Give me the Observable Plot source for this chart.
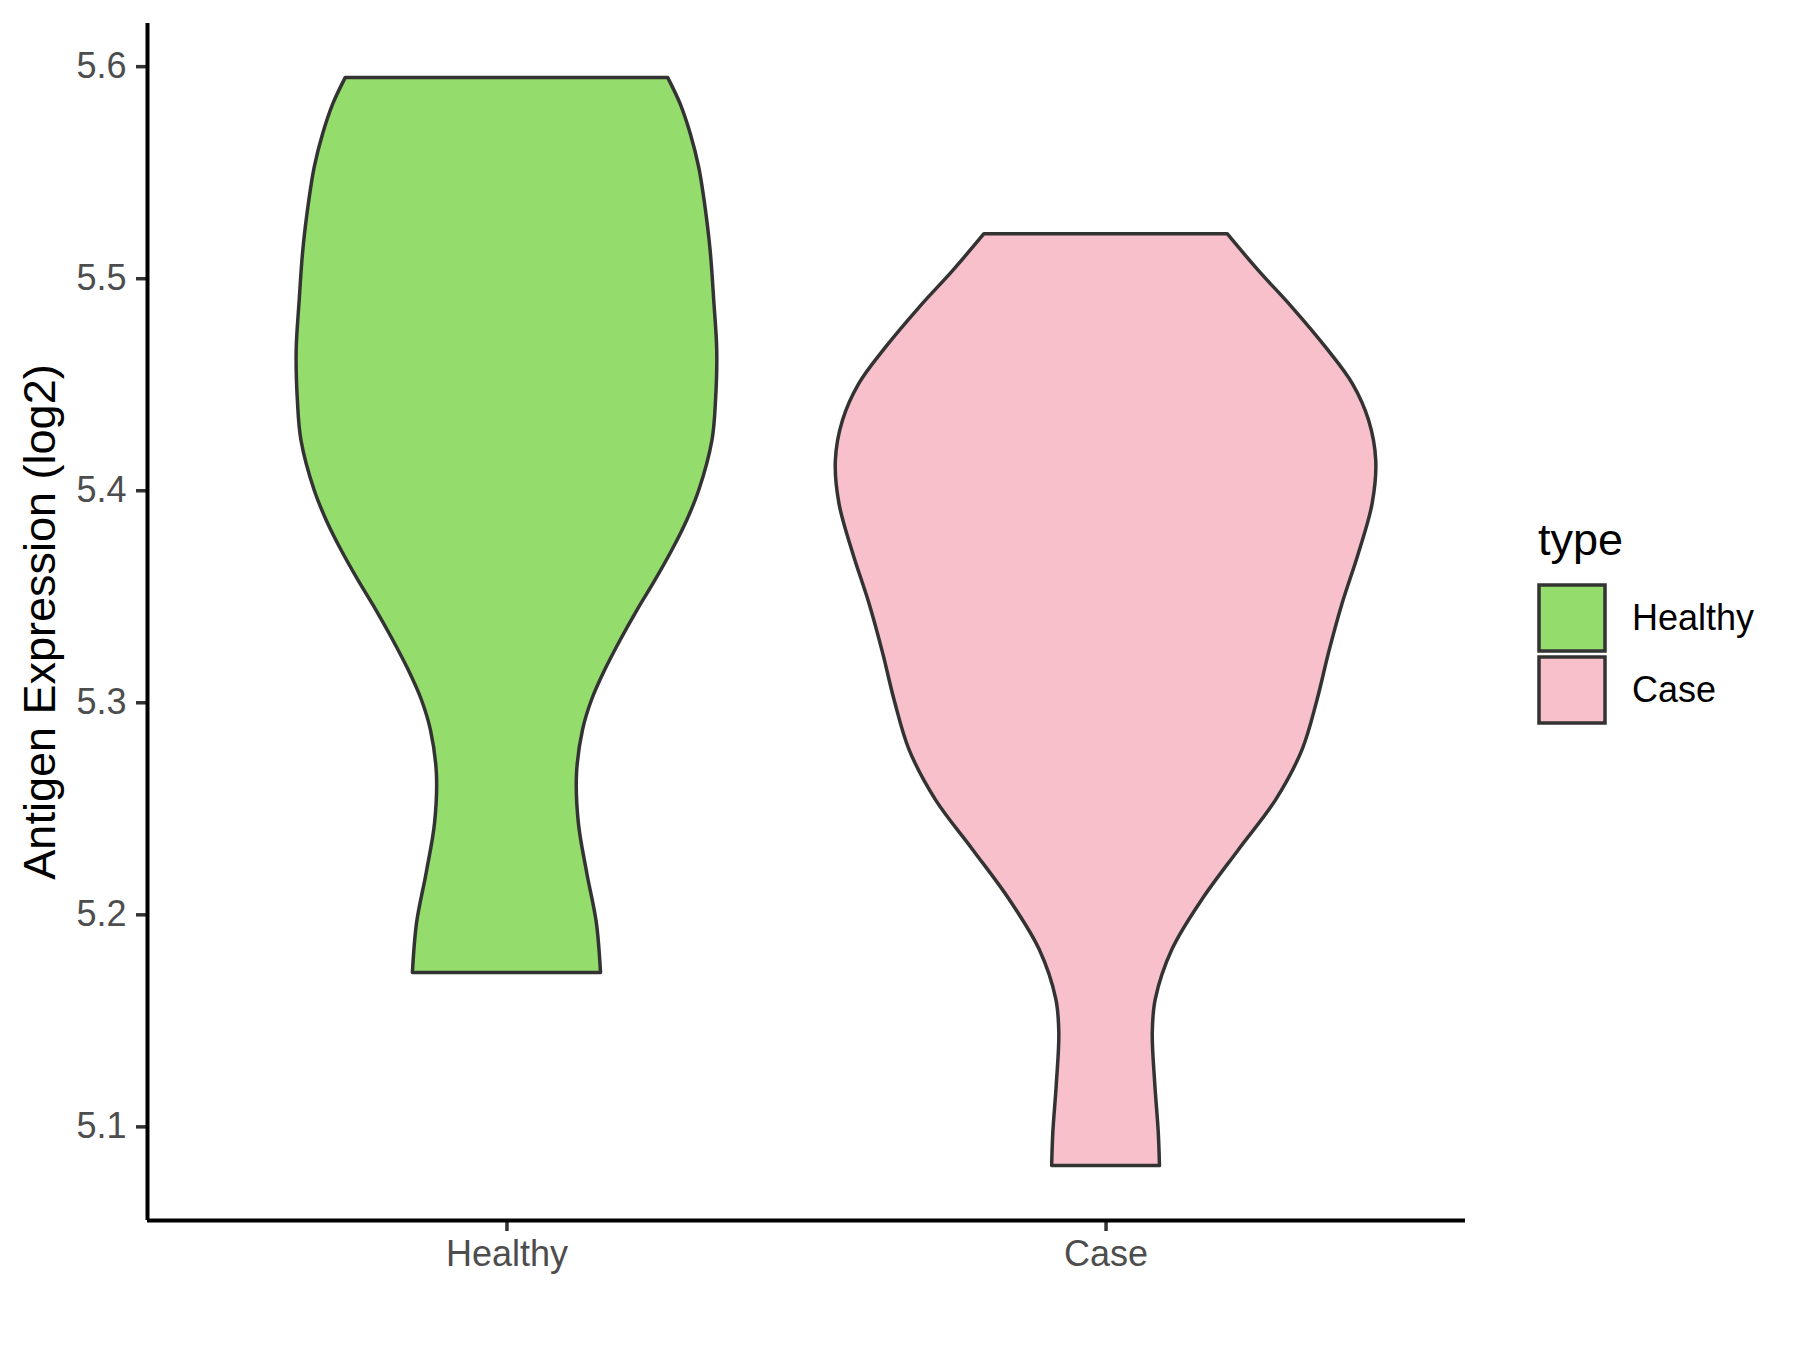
<!DOCTYPE html>
<html><head><meta charset="utf-8">
<script src="https://cdn.jsdelivr.net/npm/d3@7"></script>
<script src="https://cdn.jsdelivr.net/npm/@observablehq/plot@0.6"></script>
<style>
html,body{margin:0;padding:0;background:#fff;}
#wrap{position:relative;width:1800px;height:1350px;font-family:"Liberation Sans",Arial,sans-serif;}
#legend{position:absolute;left:1530px;top:500px;}
</style></head><body><div id="wrap"></div>
<script>
const categories = ["Healthy", "Case"];
const fillColors = ["#94DC6C", "#F7C0CB"];
const yTitle = "Antigen Expression (log2)";
const legendTitle = "type";
const yTicks = [5.1, 5.2, 5.3, 5.4, 5.5, 5.6];

// violin outlines: value and half-width (in category units)
const healthyValue = [5.5947, 5.5822, 5.5680, 5.5523, 5.5366, 5.5131, 5.4895, 5.4660, 5.4425, 5.4236, 5.4001, 5.3860, 5.3718, 5.3577, 5.3436, 5.3295, 5.3153, 5.3012, 5.2871, 5.2667, 5.2432, 5.2196, 5.1961, 5.1726];
const healthyHalfWidth = [0.269, 0.290, 0.307, 0.321, 0.330, 0.340, 0.346, 0.351, 0.349, 0.343, 0.321, 0.301, 0.276, 0.248, 0.218, 0.190, 0.164, 0.142, 0.127, 0.117, 0.120, 0.134, 0.150, 0.157];
const caseValue = [5.5210, 5.5037, 5.4864, 5.4676, 5.4503, 5.4331, 5.4142, 5.3938, 5.3703, 5.3468, 5.3232, 5.3012, 5.2777, 5.2541, 5.2306, 5.2071, 5.1836, 5.1600, 5.1443, 5.1208, 5.0972, 5.0815];
const caseHalfWidth = [0.203, 0.255, 0.311, 0.367, 0.412, 0.439, 0.451, 0.445, 0.422, 0.395, 0.372, 0.353, 0.328, 0.284, 0.222, 0.161, 0.111, 0.083, 0.078, 0.082, 0.088, 0.090];

const rows = [];
[[healthyValue, healthyHalfWidth], [caseValue, caseHalfWidth]].forEach(([vs, hs], i) => {
  vs.forEach((v, j) => rows.push({type: categories[i], pos: i + 1, v, hw: hs[j]}));
});
const allV = rows.map(d => d.v);
const lo = d3.min(allV), hi = d3.max(allV), pad = (hi - lo) * 0.05;
const xDomain = [1 - 0.6, categories.length + 0.6];
const yDomain = [lo - pad, hi + pad];
const font = '"Liberation Sans", Arial, sans-serif';

const plot = Plot.plot({
  width: 1800, height: 1350,
  marginLeft: 147, marginRight: 335, marginTop: 23, marginBottom: 130,
  style: {fontFamily: font, background: "white", overflow: "visible"},
  x: {domain: xDomain},
  y: {domain: yDomain},
  color: {domain: categories, range: fillColors},
  marks: [
    Plot.areaX(rows, {y: "v", x1: d => d.pos - d.hw, x2: d => d.pos + d.hw, fill: "type", z: "type",
      stroke: "#333333", strokeWidth: 3.5, curve: "catmull-rom"}),
    Plot.axisY({ticks: yTicks, tickSize: 11, tickPadding: 10, tickFormat: d3.format(".1f"),
      fontSize: 36, stroke: "#333333", strokeWidth: 3.5, fill: "#4d4d4d", label: null}),
    Plot.axisX({ticks: categories.map((c, i) => i + 1), tickFormat: d => categories[d - 1],
      tickSize: 11, tickPadding: 9, fontSize: 36, stroke: "#333333", strokeWidth: 3.5, fill: "#4d4d4d", label: null}),
    Plot.ruleX([xDomain[0]], {stroke: "black", strokeWidth: 4}),
    Plot.ruleY([yDomain[0]], {stroke: "black", strokeWidth: 4}),
    Plot.text([yTitle], {text: d => d, frameAnchor: "left", rotate: -90, dx: -107, lineAnchor: "middle",
      textAnchor: "middle", fontSize: 45, fill: "black"})
  ]
});
const wrap = document.getElementById("wrap");
wrap.appendChild(plot);

// legend
const leg = d3.select(wrap).append("svg").attr("id", "legend").attr("width", 260).attr("height", 240)
  .style("font-family", font);
leg.append("text").attr("x", 8).attr("y", 55).attr("font-size", 45).attr("fill", "black").text(legendTitle);
categories.forEach((c, i) => {
  leg.append("rect").attr("x", 9).attr("y", 85 + i * 72).attr("width", 66).attr("height", 66)
    .attr("fill", fillColors[i]).attr("stroke", "#333333").attr("stroke-width", 3.5);
  leg.append("text").attr("x", 102).attr("y", 130 + i * 72).attr("font-size", 36).attr("fill", "black").text(c);
});
</script></body></html>
